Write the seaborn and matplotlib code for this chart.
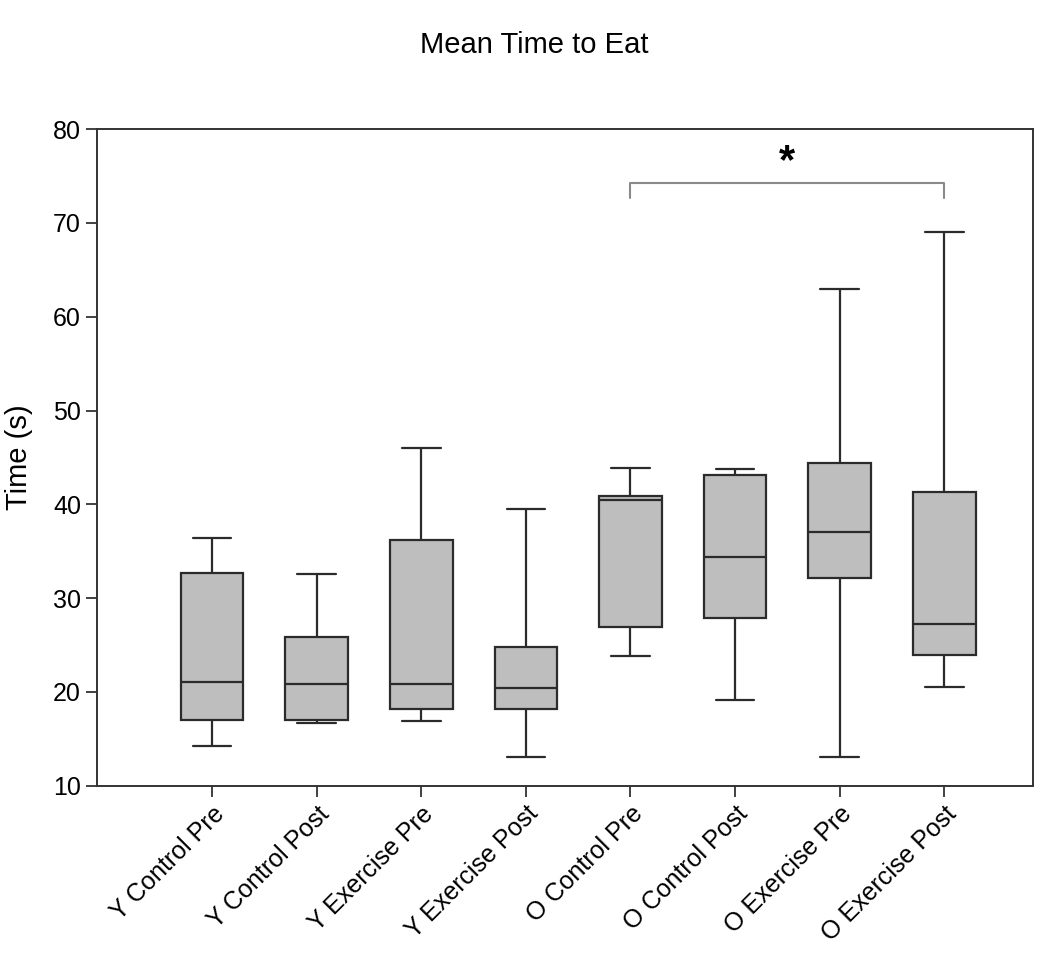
import numpy as np
import pandas as pd
import seaborn as sns
from matplotlib import pyplot as plt

groups = ["Y Control Pre", "Y Control Post", "Y Exercise Pre", "Y Exercise Post",
          "O Control Pre", "O Control Post", "O Exercise Pre", "O Exercise Post"]
whisker_low = [14.2, 16.7, 16.9, 13.1, 23.8, 19.1, 13.1, 20.5]
q1 = [17.0, 17.0, 18.2, 18.2, 26.9, 27.9, 32.2, 23.9]
median = [21.1, 20.8, 20.8, 20.4, 40.5, 34.4, 37.1, 27.2]
q3 = [32.7, 25.9, 36.2, 24.8, 40.9, 43.1, 44.4, 41.3]
whisker_high = [36.4, 32.6, 46.0, 39.5, 43.9, 43.8, 62.9, 69.0]

# five values per group so the quartiles land on the read-off numbers
rows = []
for i, g in enumerate(groups):
    for v in (whisker_low[i], q1[i], median[i], q3[i], whisker_high[i]):
        rows.append({"group": g, "time": v})
df = pd.DataFrame(rows)

sns.set_style("ticks")
plt.rcParams["font.family"] = ["Liberation Sans", "DejaVu Sans"]
plt.rcParams["text.color"] = "black"
plt.rcParams["axes.labelcolor"] = "black"
plt.rcParams["xtick.color"] = "black"
plt.rcParams["ytick.color"] = "black"

fig = plt.figure(figsize=(10.5, 9.63), dpi=100)
ax = fig.add_axes([0.0924, 0.184, 0.8916, 0.682])

sns.boxplot(data=df, x="group", y="time", order=groups, whis=(0, 100),
            color="#bebebe", saturation=1, width=0.6, linecolor="#2b2b2b",
            linewidth=1.6, ax=ax)

# widen the whisker caps a bit (medians span the full box, caps are shorter)
for ln in ax.lines:
    xs = np.asarray(ln.get_xdata(), dtype=float)
    ys = np.asarray(ln.get_ydata(), dtype=float)
    if len(xs) == 2 and ys[0] == ys[1] and (xs[1] - xs[0]) < 0.5:
        c = xs.mean()
        ln.set_xdata([c - 0.185, c + 0.185])

ax.set_xlim(-1.1, 7.85)
ax.set_ylim(10, 80)
ax.set_yticks(range(10, 81, 10))
ax.set_xlabel("")
ax.set_ylabel("Time (s)", fontsize=21)
ax.yaxis.set_label_coords(-0.068, 0.5)
ax.tick_params(axis="both", labelsize=18, length=8, width=1.3, color="#333333")
ax.set_xticks(range(len(groups)))
ax.set_xticklabels(groups, rotation=45, ha="right", rotation_mode="anchor")
for s in ax.spines.values():
    s.set_linewidth(1.4)
    s.set_color("#333333")

# significance bracket between O Control Pre and O Exercise Post
ax.plot([4, 4, 7, 7], [72.6, 74.2, 74.2, 72.6], color="#8a8a8a", lw=1.5)
ax.text(5.5, 76.5, "*", ha="center", va="center", fontsize=30, fontweight="bold")

fig.text(0.509, 0.953, "Mean Time to Eat", ha="center", va="center", fontsize=21)

fig.savefig("out.png", dpi=100)
